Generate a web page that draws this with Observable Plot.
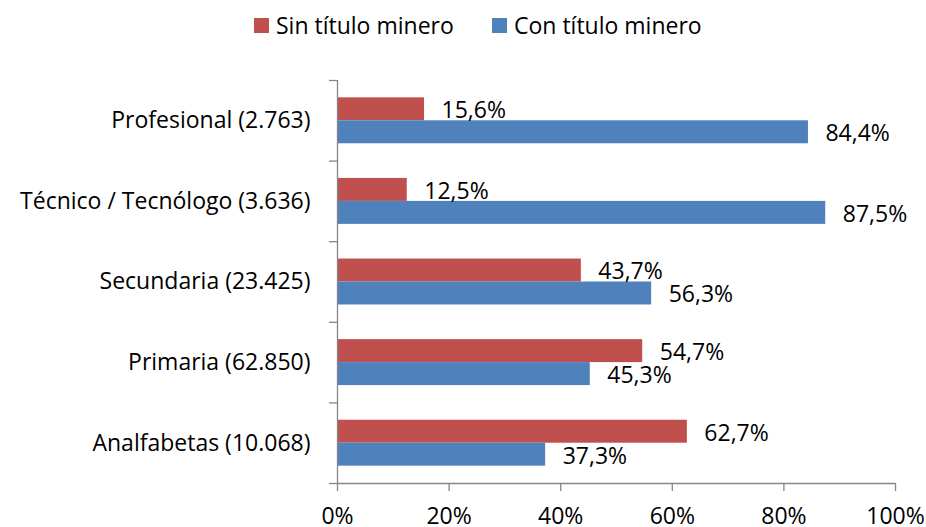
<!DOCTYPE html>
<html>
<head>
<meta charset="utf-8">
<script src="https://cdn.jsdelivr.net/npm/d3@7"></script>
<script src="https://cdn.jsdelivr.net/npm/@observablehq/plot@0.6"></script>
<style>
  html, body { margin: 0; padding: 0; background: #fff; }
  #wrap { width: 926px; height: 527px; position: relative; font-family: "Open Sans", sans-serif; color: #000; }
  #legend { height: 48px; position: relative; font-size: 23px; }
  .item { position: absolute; top: 10px; display: flex; align-items: center; line-height: 31px; }
  .sw { width: 15px; height: 15px; margin-right: 7px; }
</style>
</head>
<body>
<div id="wrap">
  <div id="legend"></div>
  <div id="chart"></div>
</div>
<script>
const categories = [
  "Profesional (2.763)",
  "Técnico / Tecnólogo (3.636)",
  "Secundaria (23.425)",
  "Primaria (62.850)",
  "Analfabetas (10.068)"
];
const series = ["Sin título minero", "Con título minero"];
const colors = ["#C0504D", "#4F81BD"];
const sinTitulo = [15.6, 12.5, 43.7, 54.7, 62.7];
const conTitulo = [84.4, 87.5, 56.3, 45.3, 37.3];
const xTicks = [0, 20, 40, 60, 80, 100];

const rows = categories.flatMap((c, i) => [
  {cat: c, i, s: 0, serie: series[0], v: sinTitulo[i]},
  {cat: c, i, s: 1, serie: series[1], v: conTitulo[i]}
]);
const slot = [[0.215, 0.5], [0.5, 0.785]];
const fmt = v => v.toFixed(1).replace(".", ",") + "%";
const gray = "#868686";
const font = "'Open Sans', sans-serif";
const fs = 23;

// legend
const legend = document.getElementById("legend");
const lx = [254, 492];
series.forEach((s, k) => {
  const it = document.createElement("div");
  it.className = "item";
  it.style.left = lx[k] + "px";
  it.innerHTML = `<span class="sw" style="background:${colors[k]}"></span><span>${s}</span>`;
  legend.appendChild(it);
});

const chart = Plot.plot({
  width: 926,
  height: 479,
  marginTop: 32,
  marginBottom: 44,
  marginLeft: 337,
  marginRight: 31,
  style: {fontFamily: font, fontSize: fs + "px", color: "#000", background: "#fff", overflow: "visible"},
  x: {domain: [0, 100]},
  y: {domain: [0, 5], reverse: true},
  color: {domain: series, range: colors},
  marks: [
    Plot.rectX(rows, {
      x1: 0, x2: "v",
      y1: d => d.i + slot[d.s][0],
      y2: d => d.i + slot[d.s][1],
      fill: "serie"
    }),
    Plot.ruleX([0], {stroke: gray, strokeWidth: 1.3}),
    Plot.ruleY([5], {stroke: gray, strokeWidth: 1.3}),
    Plot.axisX(xTicks, {
      tickSize: 8, tickPadding: 16, stroke: gray, strokeWidth: 1.3, fill: "#000",
      tickFormat: d => d + "%", fontSize: fs, label: null
    }),
    Plot.axisY(d3.range(0, 6), {
      tickSize: 8, stroke: gray, strokeWidth: 1.3, tickFormat: () => "", label: null
    }),
    Plot.axisY(categories.map((_, i) => i + 0.5), {
      tickSize: 0, tickPadding: 27, fill: "#000",
      tickFormat: d => categories[Math.round(d - 0.5)], fontSize: fs, label: null
    }),
    Plot.text(rows, {
      x: "v",
      y: d => d.i + (slot[d.s][0] + slot[d.s][1]) / 2,
      text: d => fmt(d.v),
      textAnchor: "start", dx: 17, dy: 1.5, fontSize: fs, fill: "#000"
    })
  ]
});
document.getElementById("chart").appendChild(chart);
</script>
</body>
</html>
